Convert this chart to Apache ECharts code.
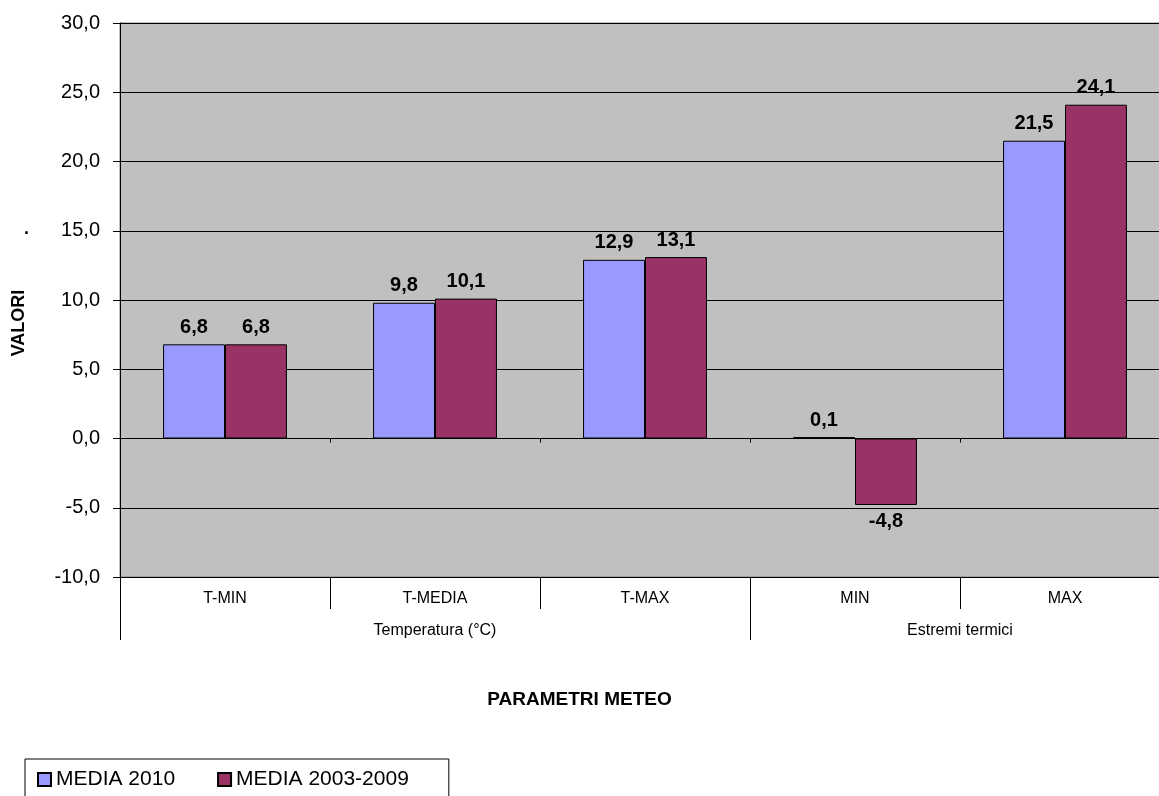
<!DOCTYPE html>
<html>
<head>
<meta charset="utf-8">
<script src="https://cdn.jsdelivr.net/npm/echarts@6/dist/echarts.min.js"></script>
<style>
  html, body { margin: 0; padding: 0; background: #fff; }
  #chart { width: 1159px; height: 796px; }
</style>
</head>
<body>
<div id="chart"></div>
<script>
const categories = ['T-MIN', 'T-MEDIA', 'T-MAX', 'MIN', 'MAX'];
const groupLabels = ['Temperatura (°C)', 'Estremi termici'];
const groupCenters = [1.5, 4];   // position of group label on the 0..5 band scale
const groupBounds = [0, 3];
const media2010 = [6.8, 9.8, 12.9, 0.1, 21.5];
const media2003_2009 = [6.8, 10.1, 13.1, -4.8, 24.1];

const comma = v => v.toFixed(1).replace('.', ',');
const font = 'Arial, "Liberation Sans", sans-serif';

// negative bars get their label under the bar
const withLabelSide = arr => arr.map(v => v < 0 ? { value: v, label: { position: 'bottom' } } : v);

const labelStyle = {
  show: true,
  position: 'top',
  distance: 7,
  fontFamily: font,
  fontWeight: 'bold',
  fontSize: 20,
  color: '#000',
  formatter: p => comma(p.value)
};

const myChart = echarts.init(document.getElementById('chart'));
myChart.setOption({
  animation: false,
  textStyle: { fontFamily: font },
  title: {
    text: 'PARAMETRI METEO',
    left: 'center',
    top: 685,
    textStyle: { fontFamily: font, fontWeight: 'bold', fontSize: 19, color: '#000' }
  },
  legend: {
    left: 25,
    top: 759,
    icon: 'rect',
    itemWidth: 13,
    itemHeight: 13,
    itemGap: 42,
    padding: [10, 40, 14, 12],
    borderColor: '#000',
    borderWidth: 1,
    textStyle: { fontFamily: font, fontSize: 21, color: '#000' },
    data: ['MEDIA 2010', 'MEDIA 2003-2009']
  },
  // plot runs past the right edge of the picture, like the reference
  grid: {
    left: 120,
    top: 23,
    width: 1050,
    height: 554,
    outerBoundsMode: 'none',
    containLabel: false,
    show: true,
    backgroundColor: '#c0c0c0',
    borderColor: '#808080',
    borderWidth: 1
  },
  xAxis: [
    {
      type: 'category',
      data: categories,
      position: 'bottom',
      axisLine: { show: false, onZero: false },
      axisTick: { show: true, interval: 0, length: 32, lineStyle: { color: '#000' } },
      axisLabel: { interval: 0, margin: 14, fontFamily: font, fontSize: 16, color: '#000' }
    },
    {
      type: 'value',
      min: 0,
      max: 5,
      position: 'bottom',
      offset: 32,
      axisLine: { show: false, onZero: false },
      splitLine: { show: false },
      axisTick: { show: true, customValues: groupBounds, length: 31, lineStyle: { color: '#000' } },
      axisLabel: {
        customValues: groupCenters,
        margin: 14,
        fontFamily: font,
        fontSize: 16,
        color: '#000',
        formatter: v => groupLabels[groupCenters.indexOf(v)] || ''
      }
    },
    {
      type: 'category',
      data: categories,
      position: 'bottom',
      axisLine: { show: true, onZero: true, lineStyle: { color: '#000', width: 1 } },
      axisTick: { show: true, interval: 0, length: 4, lineStyle: { color: '#000' } },
      axisLabel: { show: false }
    }
  ],
  yAxis: {
    type: 'value',
    min: -10,
    max: 30,
    interval: 5,
    name: 'VALORI',
    nameLocation: 'middle',
    nameGap: 92,
    nameTextStyle: { fontFamily: font, fontWeight: 'bold', fontSize: 18, color: '#000', padding: [0, 46, 0, 0] },
    axisLine: { show: true, lineStyle: { color: '#000' } },
    axisTick: { show: true, length: 7, lineStyle: { color: '#000' } },
    splitLine: { show: true, lineStyle: { color: '#000', width: 1 } },
    axisLabel: { margin: 20, fontFamily: font, fontSize: 20, color: '#000', formatter: v => comma(v) }
  },
  graphic: [
    { type: 'text', left: 24, top: 220, style: { text: '.', font: 'bold 18px ' + font, fill: '#000' } }
  ],
  series: [
    {
      name: 'MEDIA 2010',
      type: 'bar',
      xAxisIndex: 0,
      data: withLabelSide(media2010),
      barWidth: '29.5%',
      barGap: '0%',
      itemStyle: { color: '#9999ff', borderColor: '#000', borderWidth: 1 },
      label: labelStyle
    },
    {
      name: 'MEDIA 2003-2009',
      type: 'bar',
      xAxisIndex: 0,
      data: withLabelSide(media2003_2009),
      barWidth: '29.5%',
      barGap: '0%',
      itemStyle: { color: '#993366', borderColor: '#000', borderWidth: 1 },
      label: labelStyle
    }
  ]
});
</script>
</body>
</html>
